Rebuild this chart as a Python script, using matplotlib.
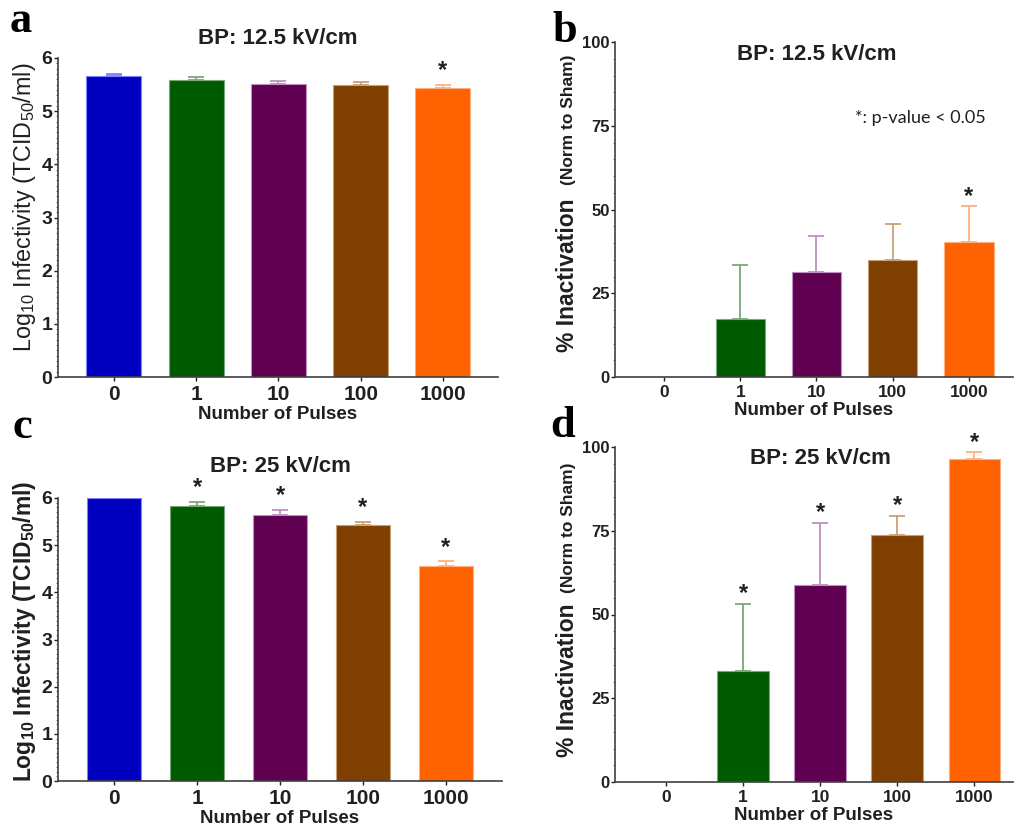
import matplotlib
matplotlib.use("Agg")
import matplotlib.pyplot as plt
from matplotlib.ticker import AutoMinorLocator

plt.rcParams['font.family'] = ['Liberation Sans', 'DejaVu Sans']
plt.rcParams['mathtext.fontset'] = 'custom'
plt.rcParams['mathtext.rm'] = 'Liberation Sans'
plt.rcParams['mathtext.bf'] = 'Liberation Sans:bold'

# data
pulses = ['0', '1', '10', '100', '1000']

log_a = [5.67, 5.59, 5.51, 5.49, 5.43]
log_a_err = [0.03, 0.05, 0.05, 0.05, 0.06]
sig_a = [False, False, False, False, True]

inact_b = [0, 17.4, 31.3, 35.0, 40.3]
inact_b_err = [0, 15.9, 10.9, 10.8, 10.7]
sig_b = [False, False, False, False, True]

log_c = [6.01, 5.84, 5.64, 5.43, 4.55]
log_c_err = [0.0, 0.08, 0.11, 0.06, 0.11]
sig_c = [False, True, True, True, True]

inact_d = [0, 33.1, 58.7, 73.6, 96.5]
inact_d_err = [0, 20.1, 18.7, 5.9, 1.9]
sig_d = [False, True, True, True, True]

bar_colors = ['#0000bf', '#005a00', '#600050', '#7f3f00', '#ff6200']
err_colors = ['#8080ff', '#7aa87a', '#c090c0', '#c8a078', '#ffb080']

W, H = 1015, 825
fig = plt.figure(figsize=(W / 100, H / 100), dpi=100)


def px_axes(left, top, right, bottom):
    return fig.add_axes([left / W, 1 - bottom / H, (right - left) / W, (bottom - top) / H])


def fig_text(x, y, s, **kw):
    # x, y in pixels from the top left corner
    return fig.text(x / W, 1 - y / H, s, **kw)


def draw_panel(ax, vals, errs, sig, ymax, xlim, width, star_pad, yt_size, xt_size):
    x = list(range(len(pulses)))
    ax.bar(x, vals, width=width, color=bar_colors, edgecolor=err_colors, linewidth=0.8, zorder=2)
    for i in x:
        if vals[i] <= 0:
            continue
        if errs[i] > 0:
            ax.errorbar(i, vals[i], yerr=[[0], [errs[i]]], fmt='none', ecolor=err_colors[i],
                        elinewidth=1.3, capsize=6, capthick=1.3, zorder=1)
        if sig[i]:
            ax.text(i, vals[i] + errs[i] + star_pad, '*', ha='center', va='center',
                    fontsize=17, fontweight='bold', color='#202020')
    ax.set_xlim(*xlim)
    ax.set_ylim(0, ymax)
    ax.set_xticks(x)
    ax.set_xticklabels(pulses)
    for s in ['top', 'right']:
        ax.spines[s].set_visible(False)
    for s in ['left', 'bottom']:
        ax.spines[s].set_color('#404040')
        ax.spines[s].set_linewidth(1.2)
    ax.tick_params(axis='y', length=3, width=1, pad=1, labelsize=yt_size, colors='#202020')
    ax.tick_params(axis='x', length=3, width=1, pad=3, labelsize=xt_size, colors='#202020')
    ax.yaxis.set_minor_locator(AutoMinorLocator(10))
    ax.tick_params(axis='y', which='minor', length=1.5, width=0.6, colors='#606060')
    for lab in ax.get_xticklabels() + ax.get_yticklabels():
        lab.set_fontweight('bold')
    ax.set_xlabel('Number of Pulses', fontsize=13.5, fontweight='bold', labelpad=1, color='#202020')


# a
ax_a = px_axes(58, 58, 498, 377)
draw_panel(ax_a, log_a, log_a_err, sig_a, 6, (-0.68, 4.67), 0.67, 0.28, 14, 15)
ax_a.set_yticks([0, 1, 2, 3, 4, 5, 6])
ax_a.set_ylabel('Log$_{\\mathrm{10}}$ Infectivity (TCID$_{\\mathrm{50}}$/ml)', fontsize=16.8,
                color='#202020')
ax_a.yaxis.set_label_coords(-0.045, 0.533)
fig_text(278, 39, 'BP: 12.5 kV/cm', ha='center', va='center', fontsize=16,
         fontweight='bold', color='#202020')

# b
ax_b = px_axes(615, 42, 1013, 377)
draw_panel(ax_b, inact_b, inact_b_err, sig_b, 100, (-0.645, 4.58), 0.65, 3.0, 12, 12.5)
ax_b.set_yticks([0, 25, 50, 75, 100])
ax_b.yaxis.set_minor_locator(AutoMinorLocator(5))
fig_text(817, 55, 'BP: 12.5 kV/cm', ha='center', va='center', fontsize=16,
         fontweight='bold', color='#202020')
fig_text(855, 118, '*: p-value < 0.05', ha='left', va='center',
         fontsize=13, family=['Lato', 'DejaVu Sans'], color='#202020')

# c
ax_c = px_axes(58, 498, 502, 781)
draw_panel(ax_c, log_c, log_c_err, sig_c, 6, (-0.675, 4.675), 0.66, 0.3, 14, 15)
ax_c.set_yticks([0, 1, 2, 3, 4, 5, 6])
ax_c.set_ylabel('Log$_{\\mathbf{10}}$ Infectivity (TCID$_{\\mathbf{50}}$/ml)', fontsize=16.5,
                fontweight='bold', color='#202020')
ax_c.yaxis.set_label_coords(-0.045, 0.528)
fig_text(280, 467, 'BP: 25 kV/cm', ha='center', va='center', fontsize=16,
         fontweight='bold', color='#202020')

# d
ax_d = px_axes(615, 447, 1013, 782)
draw_panel(ax_d, inact_d, inact_d_err, sig_d, 100, (-0.66, 4.5), 0.67, 3.0, 12, 12.5)
ax_d.set_yticks([0, 25, 50, 75, 100])
ax_d.yaxis.set_minor_locator(AutoMinorLocator(5))
fig_text(820, 458, 'BP: 25 kV/cm', ha='center', va='center', fontsize=16,
         fontweight='bold', color='#202020')

# split y labels for b and d
for yc1, yc2 in [(275, 120), (680, 528)]:
    fig_text(567, yc1, '% Inactivation', rotation=90, ha='center', va='center',
             fontsize=16.5, fontweight='bold', color='#202020')
    fig_text(569, yc2, '(Norm to Sham)', rotation=90, ha='center', va='center',
             fontsize=12.5, fontweight='bold', color='#202020')

# panel letters
for lx, ly, letter in [(10, 32, 'a'), (552, 42, 'b'), (12, 438, 'c'), (550, 437, 'd')]:
    fig_text(lx, ly, letter, ha='left', va='baseline', fontsize=32,
             fontweight='bold', family=['Liberation Serif', 'DejaVu Serif'])

fig.savefig('out.png', dpi=100)
